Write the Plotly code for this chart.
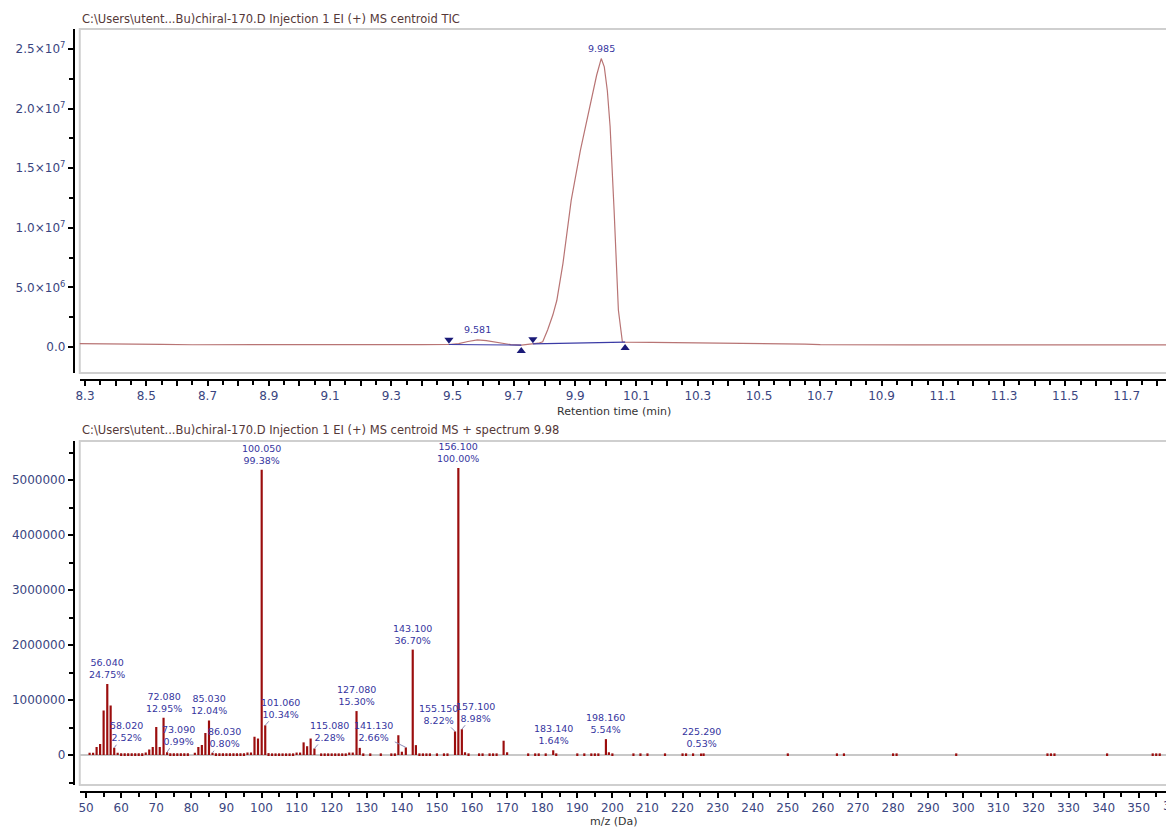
import numpy as np
import plotly.graph_objects as go

# ---------------- data: TIC chromatogram ----------------
tic_time = [8.274, 8.35, 8.45, 8.55, 8.65, 8.8, 9.0, 9.2, 9.4, 9.488, 9.52, 9.55, 9.581,
            9.61, 9.65, 9.69, 9.724, 9.745, 9.762, 9.78, 9.794, 9.81, 9.827, 9.84, 9.86,
            9.887, 9.917, 9.953, 9.97, 9.985, 9.995, 10.005, 10.014, 10.027, 10.041,
            10.054, 10.065, 10.15, 10.3, 10.45, 10.6, 10.65, 10.7, 10.8, 10.9, 11.0,
            11.2, 11.5, 11.85]
tic_int = [2.8e5, 2.8e5, 2.7e5, 2.2e5, 1.9e5, 1.8e5, 1.8e5, 1.9e5, 2.0e5, 2.1e5, 2.8e5,
           4.6e5, 6.0e5, 5.3e5, 3.6e5, 2.0e5, 1.6e5, 2.0e5, 2.6e5, 3.2e5, 4.4e5, 1.43e6,
           2.68e6, 3.9e6, 7.0e6, 1.23e7, 1.65e7, 2.07e7, 2.28e7, 2.42e7, 2.35e7, 2.15e7,
           1.85e7, 1.15e7, 3.1e6, 4.4e5, 4.0e5, 3.9e5, 3.6e5, 3.3e5, 3.0e5, 2.4e5, 2.0e5,
           1.8e5, 1.9e5, 1.8e5, 1.8e5, 1.8e5, 1.8e5]
peak_times = [9.581, 9.985]
peak_labels = ["9.581", "9.985"]
integ_start = [9.488, 9.762]
integ_end = [9.724, 10.063]

tic_yticks = [0, 5e6, 1e7, 1.5e7, 2e7, 2.5e7]
tic_yticktext = ["0.0", "5.0×10<sup>6</sup>", "1.0×10<sup>7</sup>", "1.5×10<sup>7</sup>",
                 "2.0×10<sup>7</sup>", "2.5×10<sup>7</sup>"]

# ---------------- data: mass spectrum ----------------
ms_mz = [51, 52, 53, 54, 55, 56.04, 57, 58.02, 59, 60, 61, 62, 63, 64, 65, 66, 67, 68, 69,
         70, 71, 72.08, 73.09, 74, 75, 76, 77, 78, 79, 81, 82, 83, 84, 85.03, 86.03, 87,
         88, 89, 90, 91, 92, 93, 94, 95, 96, 97, 98, 99, 100.05, 101.06, 102, 103, 104,
         105, 106, 107, 108, 109, 110, 111, 112, 113, 114, 115.08, 117, 118, 119, 120,
         121, 122, 123, 124, 125, 126, 127.08, 128, 129, 131, 134, 137, 138, 139, 140,
         141.13, 143.10, 144, 145, 146, 147, 148, 150, 152, 153, 155.15, 156.10, 157.10,
         158, 159, 162, 163, 165, 166, 167, 169, 170, 176, 178, 179, 181, 183.14, 184,
         190, 192, 194, 195, 196, 198.16, 199, 200, 206, 208, 210, 215, 220, 221, 223,
         225.29, 226, 250, 264, 266, 280, 281, 298, 324, 325, 326, 341, 354, 355, 356]
ms_int = [40000, 40000, 145000, 200000, 810000, 1292000, 900000, 132000, 40000, 30000,
          30000, 30000, 30000, 30000, 30000, 30000, 45000, 100000, 145000, 510000, 145000,
          676000, 52000, 30000, 30000, 30000, 30000, 30000, 30000, 40000, 145000, 180000,
          400000, 628000, 42000, 30000, 30000, 30000, 30000, 30000, 30000, 30000, 30000,
          30000, 45000, 45000, 330000, 300000, 5188000, 540000, 35000, 30000, 30000,
          30000, 30000, 30000, 30000, 30000, 45000, 45000, 230000, 160000, 300000, 119000,
          30000, 30000, 30000, 30000, 30000, 30000, 30000, 30000, 45000, 45000, 799000,
          130000, 30000, 30000, 30000, 30000, 30000, 360000, 60000, 139000, 1916000,
          180000, 30000, 30000, 30000, 30000, 30000, 30000, 30000, 429000, 5220000,
          469000, 50000, 30000, 30000, 30000, 30000, 30000, 30000, 260000, 50000, 30000,
          30000, 30000, 30000, 86000, 30000, 30000, 30000, 30000, 30000, 30000, 289000,
          50000, 30000, 30000, 30000, 30000, 30000, 30000, 30000, 30000, 28000, 30000,
          30000, 30000, 30000, 30000, 30000, 30000, 30000, 30000, 30000, 30000, 30000,
          30000, 30000]
label_mz = [56.04, 58.02, 72.08, 73.09, 85.03, 86.03, 100.05, 101.06, 115.08, 127.08,
            141.13, 143.10, 155.15, 156.10, 157.10, 183.14, 198.16, 225.29]
label_pct = [24.75, 2.52, 12.95, 0.99, 12.04, 0.80, 99.38, 10.34, 2.28, 15.30, 2.66,
             36.70, 8.22, 100.00, 8.98, 1.64, 5.54, 0.53]

# ---------------- layout geometry (screen pixels; page has an 8px body margin) ----------------
OFF = 8
W, H = 1174 - OFF, 829 - OFF
def px(x):
    return (x - OFF) / W
def py(y):
    return 1 - (y - OFF) / H

XDOM = [px(76), px(1172)]
TOP_DOM = [py(373), py(29)]
BOT_DOM = [py(785), py(441)]

TICK_FONT = dict(family="DejaVu Sans", size=12, color="#3a4580")
LABEL_FONT = dict(family="DejaVu Sans", size=9.5, color="#3535a0")
TITLE_FONT = dict(family="DejaVu Sans", size=11.5, color="#553838")

fig = go.Figure()

# chromatogram line
fig.add_trace(go.Scatter(x=tic_time, y=tic_int, mode="lines",
                         line=dict(color="#b87474", width=1.2),
                         xaxis="x", yaxis="y", hoverinfo="skip"))

# integration baselines and markers
MARK_OFF_UP = 4.0e5
MARK_OFF_DN = 5.0e5
for s, e in zip(integ_start, integ_end):
    ys = float(np.interp(s, tic_time, tic_int))
    ye = float(np.interp(e, tic_time, tic_int))
    fig.add_trace(go.Scatter(x=[s, e], y=[ys, ye], mode="lines",
                             line=dict(color="#3b3ba5", width=1.2),
                             xaxis="x", yaxis="y", hoverinfo="skip"))
    fig.add_trace(go.Scatter(x=[s], y=[ys + MARK_OFF_UP], mode="markers",
                             marker=dict(symbol="triangle-down", size=8, color="#1a1a78"),
                             xaxis="x", yaxis="y", hoverinfo="skip"))
    fig.add_trace(go.Scatter(x=[e], y=[ye - MARK_OFF_DN], mode="markers",
                             marker=dict(symbol="triangle-up", size=8, color="#1a1a78"),
                             xaxis="x", yaxis="y", hoverinfo="skip"))

# spectrum bars
fig.add_trace(go.Bar(x=ms_mz, y=ms_int, width=0.62, marker=dict(color="#9b0d0d", line=dict(width=0)),
                     xaxis="x2", yaxis="y2", hoverinfo="skip"))

annotations = []
# chromatogram peak labels
for t, lab in zip(peak_times, peak_labels):
    annotations.append(dict(x=t, y=float(np.interp(t, tic_time, tic_int)), xref="x", yref="y",
                            text=lab, showarrow=False, yanchor="bottom", yshift=3,
                            font=LABEL_FONT))

# spectrum labels (offset ones use a leader line)
leader = {58.02: (12, -16), 73.09: (11, -17), 86.03: (12, -15), 101.06: (15, -17),
          115.08: (15, -17), 141.13: (-32, -16), 155.15: (-17, -17), 157.10: (14, -17)}
mz_arr = np.array(ms_mz)
for m, p in zip(label_mz, label_pct):
    inten = ms_int[int(np.argmin(np.abs(mz_arr - m)))]
    txt = f"{m:.3f}<br>{p:.2f}%"
    if m in leader:
        ax, ay = leader[m]
        annotations.append(dict(x=m, y=inten, xref="x2", yref="y2", text=txt,
                                showarrow=True, arrowhead=0, arrowwidth=1,
                                arrowcolor="#8c8cb8", ax=ax, ay=ay, standoff=0,
                                font=LABEL_FONT))
    else:
        annotations.append(dict(x=m, y=inten, xref="x2", yref="y2", text=txt,
                                showarrow=False, yanchor="bottom", yshift=2,
                                font=LABEL_FONT))

# titles
annotations += [
    dict(x=px(76), y=py(19), xref="paper", yref="paper", xanchor="left", yanchor="middle",
         text=r"C:\Users\utent...Bu)chiral-170.D Injection 1 EI (+) MS centroid TIC",
         showarrow=False, font=TITLE_FONT),
    dict(x=px(76), y=py(430), xref="paper", yref="paper", xanchor="left", yanchor="middle",
         text=r"C:\Users\utent...Bu)chiral-170.D Injection 1 EI (+) MS centroid MS + spectrum 9.98",
         showarrow=False, font=TITLE_FONT),
    dict(x=px(612), y=py(411), xref="paper", yref="paper", xanchor="center", yanchor="middle",
         text="Retention time (min)", showarrow=False,
         font=dict(family="DejaVu Sans", size=11, color="#333333")),
    dict(x=px(612), y=py(821), xref="paper", yref="paper", xanchor="center", yanchor="middle",
         text="m/z (Da)", showarrow=False,
         font=dict(family="DejaVu Sans", size=11, color="#333333")),
    dict(x=px(1175), y=py(806), xref="paper", yref="paper", xanchor="center", yanchor="middle",
         text="360", showarrow=False, font=TICK_FONT),
]

top_xticks = [round(8.3 + 0.1 * i, 1) for i in range(36)]
top_xtext = [f"{v:.1f}" if i % 2 == 0 else "" for i, v in enumerate(top_xticks)]

axis_common = dict(showline=True, linecolor="black", linewidth=2, ticks="outside",
                   ticklen=5, tickwidth=1.5, tickcolor="black", showgrid=False,
                   tickfont=TICK_FONT, fixedrange=True)

fig.update_layout(
    width=W, height=H, margin=dict(l=0, r=0, t=0, b=0),
    paper_bgcolor="white", plot_bgcolor="white", showlegend=False,
    font=dict(family="DejaVu Sans"),
    xaxis=dict(domain=XDOM, anchor="free", position=py(380), range=[8.283, 11.848],
               tickmode="array", tickvals=top_xticks, ticktext=top_xtext, zeroline=False,
               minor=dict(tickmode="linear", tick0=8.3, dtick=0.05, ticks="outside",
                          ticklen=4, tickwidth=1.5, tickcolor="black"),
               **axis_common),
    yaxis=dict(domain=TOP_DOM, anchor="free", position=px(70), range=[-2.18e6, 2.668e7],
               tickmode="array", tickvals=tic_yticks, ticktext=tic_yticktext, zeroline=False,
               minor=dict(tickmode="linear", tick0=0, dtick=2.5e6, ticks="outside",
                          ticklen=4, tickwidth=1.5, tickcolor="black"),
               **axis_common),
    xaxis2=dict(domain=XDOM, anchor="free", position=py(792), range=[48.2, 359.5],
                tickmode="linear", tick0=50, dtick=10, zeroline=False,
                minor=dict(tickmode="linear", tick0=50, dtick=5, ticks="outside",
                           ticklen=4, tickwidth=1.5, tickcolor="black"),
                **axis_common),
    yaxis2=dict(domain=BOT_DOM, anchor="free", position=px(70), range=[-0.545e6, 5.709e6],
                tickmode="linear", tick0=0, dtick=1e6, tickformat="d",
                zeroline=True, zerolinecolor="#c8c8c8", zerolinewidth=2,
                minor=dict(tickmode="linear", tick0=0, dtick=5e5, ticks="outside",
                           ticklen=4, tickwidth=1.5, tickcolor="black"),
                **axis_common),
    annotations=annotations,
    shapes=[
        dict(type="rect", xref="paper", yref="paper", x0=XDOM[0], x1=XDOM[1],
             y0=TOP_DOM[0], y1=TOP_DOM[1], line=dict(color="#cfcfcf", width=2), layer="below"),
        dict(type="rect", xref="paper", yref="paper", x0=XDOM[0], x1=XDOM[1],
             y0=BOT_DOM[0], y1=BOT_DOM[1], line=dict(color="#cfcfcf", width=2), layer="below"),
    ],
)

fig.write_html("out.html")
